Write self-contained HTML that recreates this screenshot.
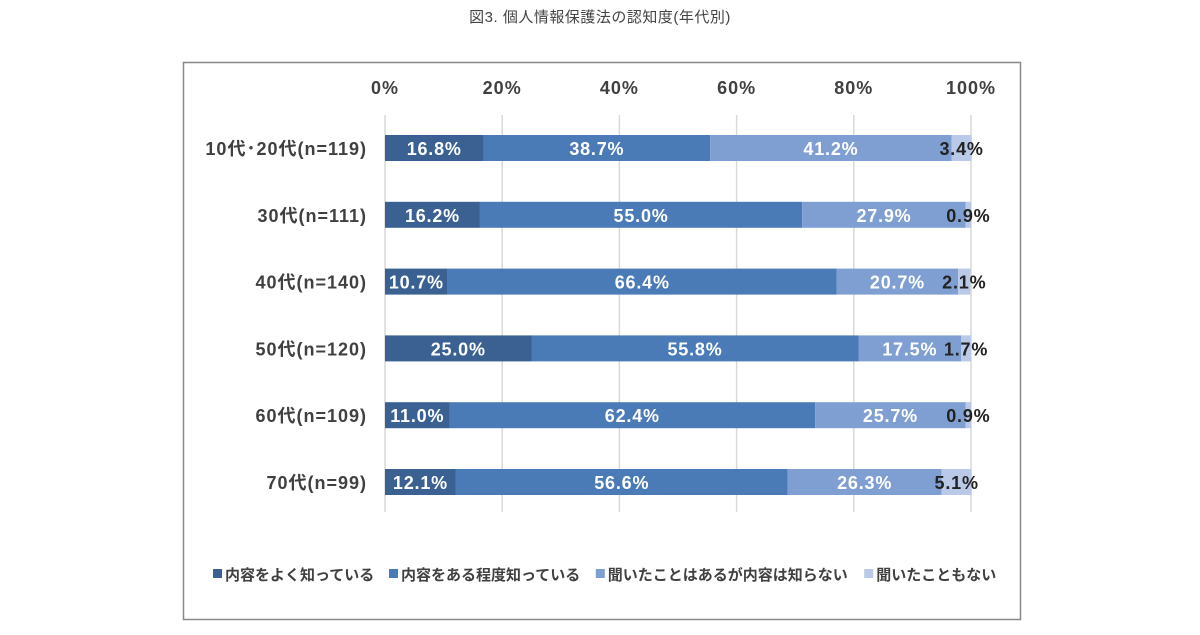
<!DOCTYPE html>
<html><head><meta charset="utf-8"><style>
body{margin:0;background:#fff;font-family:"Liberation Sans","Noto Sans CJK JP",sans-serif;}
</style></head><body>
<svg id="c" width="1200" height="630" xmlns="http://www.w3.org/2000/svg">
<text x="600" y="22" text-anchor="middle" font-size="15" letter-spacing="0.5" fill="#444">図3. 個人情報保護法の認知度(年代別)</text>
<rect x="183.5" y="62.5" width="837" height="557" fill="none" stroke="#888" stroke-width="1.5"/>
<g id="g"></g>
</svg>
<script>
const categories=["10代･20代(n=119)","30代(n=111)","40代(n=140)","50代(n=120)","60代(n=109)","70代(n=99)"];
const s1=[16.8,16.2,10.7,25.0,11.0,12.1];
const s2=[38.7,55.0,66.4,55.8,62.4,56.6];
const s3=[41.2,27.9,20.7,17.5,25.7,26.3];
const s4=[3.4,0.9,2.1,1.7,0.9,5.1];
const seriesNames=["内容をよく知っている","内容をある程度知っている","聞いたことはあるが内容は知らない","聞いたこともない"];
const ticks=[0,20,40,60,80,100];
const colors=["#3b6192","#4a7bb6","#7f9fd2","#b9c9e7"];
const NS="http://www.w3.org/2000/svg";
const g=document.getElementById('g');
const x=v=>385+v*5.86;
const y=i=>148+i*66.8;
function el(t,a){const e=document.createElementNS(NS,t);for(const k in a)e.setAttribute(k,a[k]);g.appendChild(e);return e;}
ticks.forEach(t=>{
 const l=el('line',{x1:x(t),x2:x(t),y1:115,y2:512,stroke:'#d9d9d9','stroke-width':1.5});
 
 
 const tx=el('text',{x:x(t),y:94,'text-anchor':'middle','font-size':18,'letter-spacing':1,'font-weight':'bold',fill:'#404040'});
 tx.textContent=t+'%';
 
 
});
const all=[s1,s2,s3,s4];
categories.forEach((c,i)=>{
 const lb=el('text',{x:367,y:y(i)+7,'text-anchor':'end','font-size':18,'letter-spacing':1,'font-weight':'bold',fill:'#404040'});
 lb.textContent=c;
 
 
 let acc=0;
 all.forEach((s,k)=>{
  const v=s[i];
  const r=el('rect',{x:x(acc),y:y(i)-13,width:v*5.86,height:26,fill:colors[k]});
  
  
  const t=el('text',{x:x(acc+v/2),y:y(i)+7,'text-anchor':'middle','font-size':18,'letter-spacing':0.8,'font-weight':'bold',fill:k==3?'#222':'#fff'});
  t.textContent=v.toFixed(1)+'%';
  
  
  acc+=v;
 });
});
let lx=213;
seriesNames.forEach((n,k)=>{
 const r=el('rect',{x:lx,y:569,width:9,height:9,fill:colors[k]});
 
 
 const t=el('text',{x:lx+12,y:580,'font-size':15,'font-weight':'bold',fill:'#404040'});
 t.textContent=n;
 
 
 lx+=12+n.length*15.4+10;
});
</script>
</body></html>
